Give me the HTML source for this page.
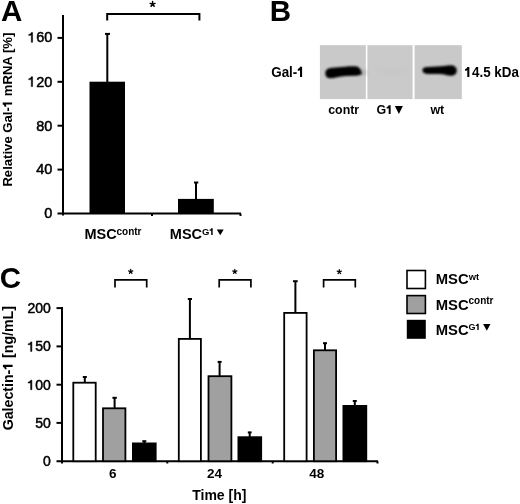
<!DOCTYPE html>
<html>
<head>
<meta charset="utf-8">
<style>
html,body{margin:0;padding:0;background:#fff;}
body{width:520px;height:504px;overflow:hidden;}
svg{display:block;filter:grayscale(1);}
text{font-family:"Liberation Sans", sans-serif;fill:#000;}
.b{font-weight:bold;}
</style>
</head>
<body>
<svg width="520" height="504" viewBox="0 0 520 504">
<defs>
  <filter id="blur1" x="-20%" y="-50%" width="140%" height="200%" color-interpolation-filters="sRGB"><feGaussianBlur stdDeviation="0.95"/></filter>
  <filter id="blur2" x="-20%" y="-50%" width="140%" height="200%" color-interpolation-filters="sRGB"><feGaussianBlur stdDeviation="2"/></filter>
</defs>
<rect width="520" height="504" fill="#fff"/>

<!-- ================= PANEL A ================= -->
<text class="b" x="1" y="20.6" font-size="29.5">A</text>
<!-- y axis -->
<g stroke="#000" stroke-width="2" fill="none">
  <line x1="63" y1="15" x2="63" y2="215.6"/>
  <line x1="57.5" y1="37.9" x2="63" y2="37.9"/>
  <line x1="57.5" y1="81.8" x2="63" y2="81.8"/>
  <line x1="57.5" y1="125.7" x2="63" y2="125.7"/>
  <line x1="57.5" y1="169.6" x2="63" y2="169.6"/>
  <line x1="57.5" y1="213.5" x2="241" y2="213.5"/>
  <line x1="152" y1="213.5" x2="152" y2="216"/>
  <line x1="240.5" y1="213.5" x2="240.5" y2="216"/>
</g>
<g font-size="14.5" text-anchor="end" stroke="#000" stroke-width="0.5">
  <text x="52.3" y="42.3"> 60</text>
  <text x="52.3" y="86.6"> 20</text>
  <text x="52.3" y="130.5">80</text>
  <text x="52.3" y="174.4">40</text>
  <text x="52.3" y="218.3">0</text>
</g>
<text class="b" font-size="13.4" transform="translate(12.1,186.6) rotate(-90)" textLength="154" lengthAdjust="spacingAndGlyphs">Relative Gal-  mRNA [%]</text>
<!-- bars -->
<rect x="89.5" y="81.7" width="35.5" height="131.6" fill="#000"/>
<rect x="178" y="198.9" width="35.8" height="14.4" fill="#000"/>
<!-- error bars -->
<g stroke="#000" stroke-width="2">
  <line x1="107.3" y1="33.9" x2="107.3" y2="82"/>
  <line x1="105" y1="33.9" x2="110" y2="33.9"/>
  <line x1="196" y1="182.5" x2="196" y2="199"/>
  <line x1="194" y1="182.5" x2="198.3" y2="182.5"/>
</g>
<!-- bracket -->
<path d="M107.2,20.5 V14 H199.4 V20.5" stroke="#000" stroke-width="2" fill="none"/>
<path d="M152.60,4.20 L152.60,1.60 M152.60,4.20 L155.07,3.40 M152.60,4.20 L154.13,6.30 M152.60,4.20 L151.07,6.30 M152.60,4.20 L150.13,3.40" stroke="#000" stroke-width="1.5" stroke-linecap="round" fill="none"/>
<!-- x labels -->
<text class="b" x="84.4" y="238.5" font-size="14.5">MSC</text>
<text class="b" x="116.5" y="234.8" font-size="10">contr</text>
<text class="b" x="169.8" y="238.5" font-size="14.5">MSC</text>
<text class="b" x="201.9" y="234.9" font-size="9.5">G </text>
<path d="M216.8,229.4 H223.7 L220.25,235.3 Z" fill="#000"/>

<!-- ================= PANEL B ================= -->
<text class="b" x="269.8" y="20.8" font-size="29.5">B</text>
<rect x="319.9" y="45.2" width="45.9" height="53.9" fill="#c9c9c9"/>
<rect x="367.4" y="45.2" width="45.2" height="53.9" fill="#cacaca"/>
<rect x="414.6" y="45.2" width="47.2" height="53.9" fill="#c9c9c9"/>
<!-- bands -->
<path d="M325.3,73.2 C325.3,69.8 328,68 332,67.8 L345,66.7 C350,66.2 355,66 357.6,66.8 C359.8,67.6 361.8,71 362.1,73 C362.3,74.9 359,75.7 355,75.8 L346,76.1 C339,76.6 334,78.4 330.5,78.3 C327,78.2 325.3,76.4 325.3,73.2 Z" fill="#000" filter="url(#blur1)"/>
<path d="M422.4,70.3 C422.4,68 424.5,67.1 427.5,67 C434,66.8 440,66.7 444,66.1 C447.5,65.4 450.5,64.8 453,65.5 C456,66.4 457,69 456.8,71 C456.6,73.5 455,75.5 451.5,75.7 C448.5,75.9 446,74.9 443,74.3 C438,73.7 432,74 427.5,73.9 C424.5,73.8 422.4,72.6 422.4,70.3 Z" fill="#000" filter="url(#blur1)"/>
<ellipse cx="392" cy="71" rx="16" ry="3" fill="#b8b8b8" filter="url(#blur2)" opacity="0.2"/><ellipse cx="364" cy="72.5" rx="3" ry="2" fill="#888" filter="url(#blur2)" opacity="0.6"/>
<text class="b" x="271.2" y="77" font-size="14.5" textLength="33.6" lengthAdjust="spacingAndGlyphs">Gal- </text>
<text class="b" x="464.6" y="77.1" font-size="14.5" textLength="54.3" lengthAdjust="spacingAndGlyphs"> 4.5 kDa</text>
<text class="b" x="328.2" y="114" font-size="12.4">contr</text>
<text class="b" x="376.6" y="114" font-size="12.4">G </text>
<path d="M394.9,105.9 H402.9 L398.9,113.9 Z" fill="#000"/>
<text class="b" x="430.4" y="114.2" font-size="12.4">wt</text>

<!-- ================= PANEL C ================= -->
<text class="b" x="-0.2" y="288.4" font-size="29.5">C</text>
<g stroke="#000" stroke-width="2" fill="none">
  <line x1="62" y1="307.1" x2="62" y2="462.2"/>
  <line x1="56.5" y1="308.1" x2="62" y2="308.1"/>
  <line x1="56.5" y1="346.4" x2="62" y2="346.4"/>
  <line x1="56.5" y1="384.7" x2="62" y2="384.7"/>
  <line x1="56.5" y1="422.9" x2="62" y2="422.9"/>
  <line x1="56.5" y1="461.2" x2="378" y2="461.2"/>
  <line x1="62" y1="461.2" x2="62" y2="463.5"/>
  <line x1="167.3" y1="461.2" x2="167.3" y2="463.5"/>
  <line x1="272.7" y1="461.2" x2="272.7" y2="463.5"/>
  <line x1="377.5" y1="461.2" x2="377.5" y2="463.5"/>
</g>
<g font-size="14" text-anchor="end" stroke="#000" stroke-width="0.5">
  <text x="50.9" y="313.1">200</text>
  <text x="50.9" y="351.4"> 50</text>
  <text x="50.9" y="389.7"> 00</text>
  <text x="50.9" y="427.9">50</text>
  <text x="50.9" y="466.2">0</text>
</g>
<text class="b" font-size="13.8" transform="translate(12.6,430.3) rotate(-90)" textLength="124.3" lengthAdjust="spacingAndGlyphs">Galectin-  [ng/mL]</text>
<!-- error bars (drawn before bars) -->
<g stroke="#000" stroke-width="2">
  <line x1="84.8" y1="377" x2="84.8" y2="382"/><line x1="82.8" y1="377" x2="86.8" y2="377"/>
  <line x1="114.6" y1="397.8" x2="114.6" y2="408"/><line x1="112.4" y1="397.8" x2="116.8" y2="397.8"/>
  <line x1="144.3" y1="441.2" x2="144.3" y2="443"/><line x1="142.3" y1="441.2" x2="146.3" y2="441.2"/>
  <line x1="189.9" y1="299" x2="189.9" y2="338.5"/><line x1="187.8" y1="299" x2="192" y2="299"/>
  <line x1="219.6" y1="361.9" x2="219.6" y2="376"/><line x1="217.6" y1="361.9" x2="221.6" y2="361.9"/>
  <line x1="249.7" y1="432.4" x2="249.7" y2="437"/><line x1="247.8" y1="432.4" x2="251.6" y2="432.4"/>
  <line x1="295.4" y1="281.2" x2="295.4" y2="312.5"/><line x1="293" y1="281.2" x2="297.7" y2="281.2"/>
  <line x1="325" y1="343.2" x2="325" y2="350"/><line x1="323" y1="343.2" x2="327" y2="343.2"/>
  <line x1="354.8" y1="401" x2="354.8" y2="406"/><line x1="352.8" y1="401" x2="356.8" y2="401"/>
</g>
<!-- bars -->
<g stroke="#000" stroke-width="1.8">
  <rect x="73.3" y="382.7" width="22.4" height="78.5" fill="#fff"/>
  <rect x="103" y="408.3" width="22.4" height="52.9" fill="#a0a0a0"/>
  <rect x="132.9" y="443.4" width="22.8" height="17.8" fill="#000"/>

  <rect x="178.8" y="338.9" width="22.1" height="122.3" fill="#fff"/>
  <rect x="208.5" y="376.2" width="22.9" height="85" fill="#a0a0a0"/>
  <rect x="238.4" y="437.2" width="22.8" height="24" fill="#000"/>

  <rect x="284.2" y="312.9" width="22.4" height="148.3" fill="#fff"/>
  <rect x="313.9" y="350.3" width="22.2" height="110.9" fill="#a0a0a0"/>
  <rect x="343.4" y="405.9" width="22.9" height="55.3" fill="#000"/>
</g>
<!-- brackets -->
<g stroke="#000" stroke-width="1.7" fill="none">
  <path d="M115,287.5 V279.9 H146.7 V287.5"/>
  <path d="M219.2,287.5 V279.9 H250.9 V287.5"/>
  <path d="M323.6,287.5 V279.9 H355.3 V287.5"/>
</g>
<path d="M130.70,271.60 L130.70,269.40 M130.70,271.60 L132.79,270.92 M130.70,271.60 L131.99,273.38 M130.70,271.60 L129.41,273.38 M130.70,271.60 L128.61,270.92" stroke="#000" stroke-width="1.2" stroke-linecap="round" fill="none"/>
<path d="M234.80,271.60 L234.80,269.40 M234.80,271.60 L236.89,270.92 M234.80,271.60 L236.09,273.38 M234.80,271.60 L233.51,273.38 M234.80,271.60 L232.71,270.92" stroke="#000" stroke-width="1.2" stroke-linecap="round" fill="none"/>
<path d="M339.30,271.80 L339.30,269.60 M339.30,271.80 L341.39,271.12 M339.30,271.80 L340.59,273.58 M339.30,271.80 L338.01,273.58 M339.30,271.80 L337.21,271.12" stroke="#000" stroke-width="1.2" stroke-linecap="round" fill="none"/>
<!-- x labels -->
<g font-size="13.5" text-anchor="middle" font-weight="bold">
  <text x="112.7" y="478.2">6</text>
  <text x="214.5" y="478.2">24</text>
  <text x="316.7" y="478.2">48</text>
</g>
<text class="b" x="192.2" y="499.6" font-size="14">Time [h]</text>

<!-- legend -->
<g stroke="#000" stroke-width="1.6">
  <rect x="407" y="270.5" width="18.4" height="18" fill="#fff"/>
  <rect x="407" y="295.6" width="18.4" height="17.9" fill="#a0a0a0"/>
  <rect x="407.6" y="320.6" width="17.4" height="17.4" fill="#000"/>
</g>
<text class="b" x="435.8" y="284.2" font-size="14.5" textLength="32.9" lengthAdjust="spacingAndGlyphs">MSC</text>
<text class="b" x="468.7" y="279.8" font-size="9.4">wt</text>
<text class="b" x="435.8" y="309.6" font-size="14.5" textLength="32.9" lengthAdjust="spacingAndGlyphs">MSC</text>
<text class="b" x="468.5" y="303.9" font-size="10">contr</text>
<text class="b" x="435.8" y="335.0" font-size="14.5" textLength="32.9" lengthAdjust="spacingAndGlyphs">MSC</text>
<text class="b" x="468.5" y="330" font-size="9">G </text>
<path d="M483.1,323.9 H490.5 L486.8,330.8 Z" fill="#000"/>
<!-- custom footless "1" glyphs -->
<path transform="translate(28.097,42.30) scale(14.5290,-14.5)" d="M0.22,0 L0.22,0.50 C0.17,0.475 0.11,0.47 0.045,0.47 L0.045,0.545 C0.13,0.55 0.19,0.60 0.225,0.68 L0.31,0.68 L0.31,0 Z" fill="#000" stroke="#000" stroke-width="0.5" vector-effect="non-scaling-stroke"/>
<path transform="translate(28.097,86.60) scale(14.5290,-14.5)" d="M0.22,0 L0.22,0.50 C0.17,0.475 0.11,0.47 0.045,0.47 L0.045,0.545 C0.13,0.55 0.19,0.60 0.225,0.68 L0.31,0.68 L0.31,0 Z" fill="#000" stroke="#000" stroke-width="0.5" vector-effect="non-scaling-stroke"/>
<path transform="translate(27.541,351.40) scale(14.0232,-14)" d="M0.22,0 L0.22,0.50 C0.17,0.475 0.11,0.47 0.045,0.47 L0.045,0.545 C0.13,0.55 0.19,0.60 0.225,0.68 L0.31,0.68 L0.31,0 Z" fill="#000" stroke="#000" stroke-width="0.5" vector-effect="non-scaling-stroke"/>
<path transform="translate(27.541,389.70) scale(14.0232,-14)" d="M0.22,0 L0.22,0.50 C0.17,0.475 0.11,0.47 0.045,0.47 L0.045,0.545 C0.13,0.55 0.19,0.60 0.225,0.68 L0.31,0.68 L0.31,0 Z" fill="#000" stroke="#000" stroke-width="0.5" vector-effect="non-scaling-stroke"/>
<path transform="translate(209.275,234.90) scale(9.5549,-9.5)" d="M0.20,0 L0.20,0.47 C0.15,0.44 0.09,0.435 0.035,0.435 L0.035,0.56 C0.12,0.565 0.175,0.61 0.20,0.70 L0.355,0.70 L0.355,0 Z" fill="#000"/>
<path transform="translate(297.316,77.00) scale(13.4612,-14.5)" d="M0.20,0 L0.20,0.47 C0.15,0.44 0.09,0.435 0.035,0.435 L0.035,0.56 C0.12,0.565 0.175,0.61 0.20,0.70 L0.355,0.70 L0.355,0 Z" fill="#000"/>
<path transform="translate(464.600,77.10) scale(13.4036,-14.5)" d="M0.20,0 L0.20,0.47 C0.15,0.44 0.09,0.435 0.035,0.435 L0.035,0.56 C0.12,0.565 0.175,0.61 0.20,0.70 L0.355,0.70 L0.355,0 Z" fill="#000"/>
<path transform="translate(386.225,114.00) scale(12.4213,-12.4)" d="M0.20,0 L0.20,0.47 C0.15,0.44 0.09,0.435 0.035,0.435 L0.035,0.56 C0.12,0.565 0.175,0.61 0.20,0.70 L0.355,0.70 L0.355,0 Z" fill="#000"/>
<path transform="translate(475.500,330.00) scale(9.0209,-9)" d="M0.20,0 L0.20,0.47 C0.15,0.44 0.09,0.435 0.035,0.435 L0.035,0.56 C0.12,0.565 0.175,0.61 0.20,0.70 L0.355,0.70 L0.355,0 Z" fill="#000"/>
<g transform="translate(12.1,186.6) rotate(-90)"><path transform="translate(79.4251,0) scale(13.1541,-13.4)" d="M0.20,0 L0.20,0.47 C0.15,0.44 0.09,0.435 0.035,0.435 L0.035,0.56 C0.12,0.565 0.175,0.61 0.20,0.70 L0.355,0.70 L0.355,0 Z" fill="#000"/></g>
<g transform="translate(12.6,430.3) rotate(-90)"><path transform="translate(60.5786,0) scale(14.1889,-13.8)" d="M0.20,0 L0.20,0.47 C0.15,0.44 0.09,0.435 0.035,0.435 L0.035,0.56 C0.12,0.565 0.175,0.61 0.20,0.70 L0.355,0.70 L0.355,0 Z" fill="#000"/></g>
</svg>
</body>
</html>
